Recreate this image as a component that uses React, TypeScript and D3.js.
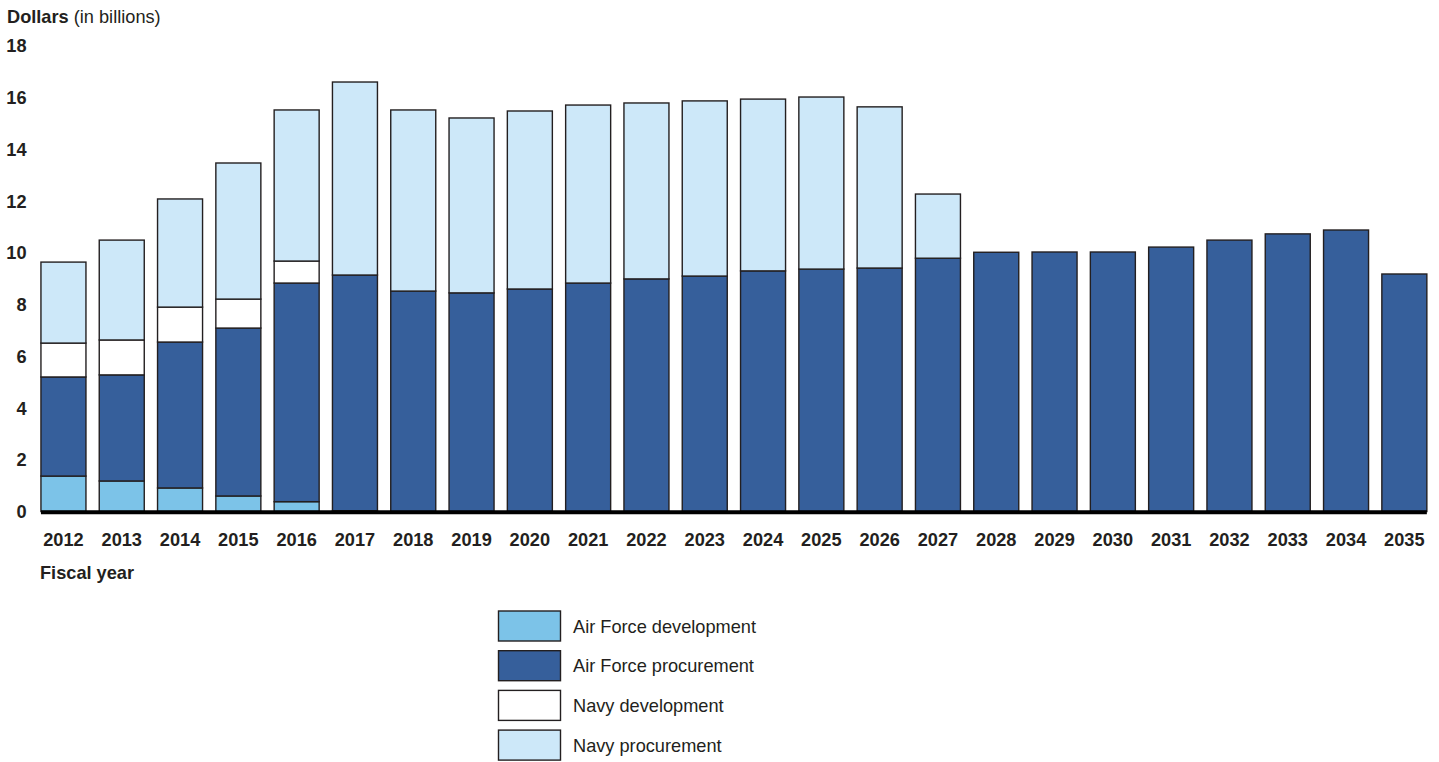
import React from "react";
import * as d3 from "d3";

const years = ["2012","2013","2014","2015","2016","2017","2018","2019","2020","2021","2022","2023","2024","2025","2026","2027","2028","2029","2030","2031","2032","2033","2034","2035"];
const airForceDev = [1.37,1.18,0.91,0.6,0.38,0.03,0,0,0,0,0,0,0,0,0,0,0,0,0,0,0,0,0,0];
const airForceProcTop = [5.2,5.28,6.55,7.09,8.83,9.14,8.52,8.45,8.6,8.83,8.99,9.1,9.3,9.37,9.41,9.79,10.02,10.03,10.03,10.22,10.49,10.73,10.88,9.18];
const navyDevTop = [6.51,6.63,7.9,8.21,9.68,9.14,8.52,8.45,8.6,8.83,8.99,9.1,9.3,9.37,9.41,9.79,10.02,10.03,10.03,10.22,10.49,10.73,10.88,9.18];
const totalTop = [9.64,10.49,12.08,13.47,15.52,16.6,15.52,15.21,15.48,15.71,15.79,15.87,15.94,16.02,15.64,12.27,10.02,10.03,10.03,10.22,10.49,10.73,10.88,9.18];
const yTicks = [0,2,4,6,8,10,12,14,16,18];
const seriesNames = ["Air Force development","Air Force procurement","Navy development","Navy procurement"];
const seriesColors = ["#7cc3e8","#365f9b","#ffffff","#cde8f9"];

const airForceProc = airForceProcTop.map((t, i) => +(t - airForceDev[i]).toFixed(3));
const navyDev = navyDevTop.map((t, i) => +(t - airForceProcTop[i]).toFixed(3));
const navyProc = totalTop.map((t, i) => +(t - navyDevTop[i]).toFixed(3));

export default function App() {
  const W = 1439, H = 762;
  const x = d3.scaleBand<string>().domain(years).range([34.3, 1433.5]).paddingInner(0.228).paddingOuter(0.114);
  const y = d3.scaleLinear().domain([0, 18]).range([511.5, 45.8]);
  const rows = years.map((yr, i) => ({ year: yr, s0: airForceDev[i], s1: airForceProc[i], s2: navyDev[i], s3: navyProc[i] }));
  const stack = d3.stack<any>().keys(["s0","s1","s2","s3"])(rows);
  const font = "'Liberation Sans', Arial, Helvetica, sans-serif";
  const fs = 18.2;
  return (
    <svg width={W} height={H} style={{ position: "absolute", left: 0, top: 0 }} fontFamily={font}>
      <rect width={W} height={H} fill="#fff" />
      <text x={7} y={22.5} fontSize={fs} fill="#231f20">
        <tspan fontWeight="bold">Dollars</tspan><tspan> (in billions)</tspan>
      </text>
      {yTicks.map(t => (
        <text key={t} x={26.5} y={y(t)} dy="0.36em" textAnchor="end" fontSize={fs} fontWeight="bold" fill="#231f20">{t}</text>
      ))}
      {stack.map((layer, li) => (
        <g key={li}>
          {layer.map((d, i) => {
            const h = y(d[0]) - y(d[1]);
            if (h < 0.5) return null;
            return (
              <rect key={i} x={x(years[i])!} y={y(d[1])} width={x.bandwidth()} height={h}
                fill={seriesColors[li]} stroke="#231f20" strokeWidth={1.4} />
            );
          })}
        </g>
      ))}
      <line x1={x(years[0])!} x2={x(years[years.length - 1])! + x.bandwidth()} y1={y(0) + 0.8} y2={y(0) + 0.8} stroke="#000" strokeWidth={4} />
      {years.map(yr => (
        <text key={yr} x={x(yr)! + x.bandwidth() / 2} y={546} textAnchor="middle" fontSize={fs} fontWeight="bold" fill="#231f20">{yr}</text>
      ))}
      <text x={40} y={579} fontSize={fs} fontWeight="bold" fill="#231f20">Fiscal year</text>
      {seriesNames.map((n, i) => (
        <g key={n} transform={`translate(498.5, ${611 + i * 39.7})`}>
          <rect width={62} height={30} fill={seriesColors[i]} stroke="#231f20" strokeWidth={1.4} />
          <text x={74.5} y={15} dy="0.36em" fontSize={fs} fill="#231f20">{n}</text>
        </g>
      ))}
    </svg>
  );
}
